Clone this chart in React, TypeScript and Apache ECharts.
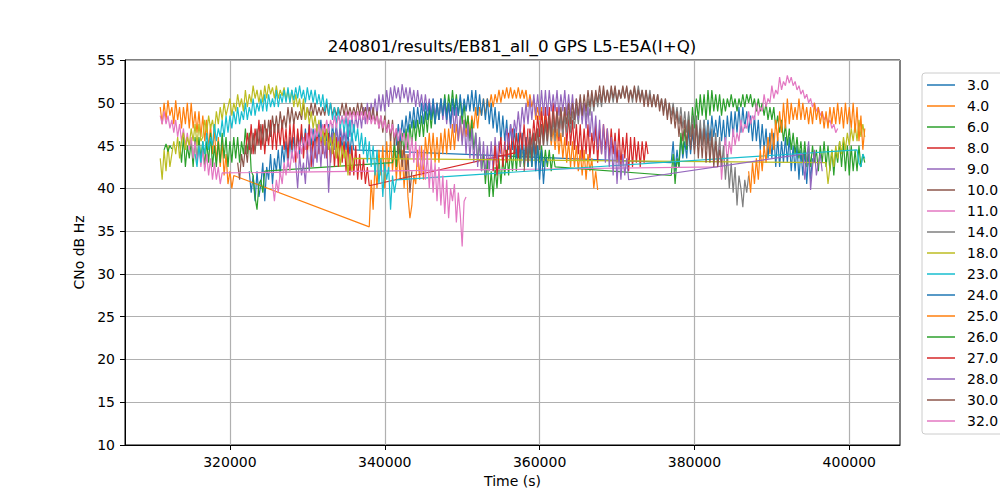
import React, { useEffect, useRef } from 'react';
import * as echarts from 'echarts';

// sample spacing of every pass, seconds
const STEP = 250;

const SAT_NAMES = ['3.0', '4.0', '6.0', '8.0', '9.0', '10.0', '11.0', '14.0', '18.0', '23.0', '24.0', '25.0', '26.0', '27.0', '28.0', '30.0', '32.0'];
const TAB10 = ['#1f77b4', '#ff7f0e', '#2ca02c', '#d62728', '#9467bd', '#8c564b', '#e377c2', '#7f7f7f', '#bcbd22', '#17becf'];
const X_TICKS = [320000, 340000, 360000, 380000, 400000];

// ---- 3.0 ----
const T03_A = 322500;
const CN03_A = [42, 39.5, 41.5, 38.5, 42, 39, 40.5, 43, 38.5, 42.5, 41, 44, 40.5, 43.5, 42, 44.5, 41.5, 45, 43, 45.5, 42.5, 46, 43.5, 46, 44, 46.5, 44, 46.5, 44.5, 47, 44.5, 47.5, 45, 47, 45, 47.5, 45.5, 48, 45, 47.5, 45.5, 47.5, 45, 47.5, 45.5, 47.5, 45, 47, 44.5, 47, 44.5, 46.5, 44, 46.5, 44.5];
const T03_C = 377000;
const CN03_C = [43, 45.5, 42, 44.5, 42.5, 46, 43.5, 45.5, 43.5, 47, 44, 46.5, 44.5, 47.5, 45, 47, 45, 48, 45.5, 48, 45.5, 48.5, 46, 48, 46, 48.5, 45.5, 48, 45, 48.5, 46, 49, 46, 49, 46.5, 49.5, 46.5, 49.5, 47, 49, 46.5, 48.5, 45.5, 48.5, 45.5, 48, 44.5, 47.5, 44.5, 47, 43.5, 46.5, 43.5, 46.5, 42.5, 46, 42.5, 45.5, 43, 46, 43, 46, 42, 45, 42, 45, 41, 44.5, 41.5, 44.5, 40.5, 44, 41, 43.5, 43];
// ---- 4.0 ----
const T04_A = 311000;
const CN04_A = [49.5, 47.5, 50, 48, 50.3, 48.5, 49.5, 47.5, 50.3, 48, 49.5, 47, 49.5, 47.5, 50, 47, 50, 47, 49, 46.5, 49, 46, 48.5, 45.5, 48, 44.5, 47.5, 44, 47, 43, 46, 42.5, 45.5, 41.5, 44, 40.5, 42, 40, 41.5];
const T04_B = 338000;
const CN04_B = [35.5, 41, 37.5, 43, 40, 44.5, 41.5, 45, 40, 45.5, 42, 46, 42, 45, 41, 44.5, 41, 44.5, 40, 44, 39, 36.5, 38, 41.5, 40.5, 44.5, 41, 45, 41, 46, 43.5, 46.5, 43.5, 46.5, 43, 46, 43, 46.5, 44, 47, 44, 47, 44.5, 47.5, 44.5, 47.5, 45.5, 48, 45.5, 48, 46, 48.5, 46, 48.5, 47, 49.5, 47, 49.5, 48.5, 50.5, 48.5, 50.5, 49.5, 51, 49.5, 51, 50, 51.5, 50, 51.5, 50.5, 51.8, 50.5, 51.8, 50.5, 51.5, 50.5, 51.8, 50.5, 51.5, 50.5, 51.5, 49.5, 51, 49.5, 50.5, 48, 49.5, 48, 49.5, 46.5, 48.5, 46.5, 48, 45, 47, 44.5, 47, 44, 46.5, 43.5, 46, 43, 45.5, 42.5, 45.5, 42.5, 45, 42, 44.5, 41.5, 44.5, 41, 44, 42, 43.5, 40, 42, 39.8];
// ---- 6.0 ----
const T06_A = 313500;
const CN06_A = [45.5, 43, 46, 42.5, 45, 43.5, 45.5, 42.5, 46, 43, 46, 43.5, 45.5, 42.5, 45.5, 43, 46.5, 42.5, 45, 42.5, 45.5, 43, 46.5, 43.5, 46, 42.5, 45.5, 43, 46, 43.5, 46, 43, 45.5, 44, 47, 44, 46.5, 42, 41.5, 39, 37.5, 40.5, 41, 39.5, 42];
const T06_B = 341000;
const CN06_B = [43, 45.5, 42.5, 46, 43.5, 46.5, 44, 47, 44.5, 47.5, 45, 48, 45.5, 48, 46, 48.5, 46, 49, 46.5, 49.5, 47, 49.5, 47.5, 50, 48, 50.5, 48.5, 51, 48.5, 51, 49, 51.5, 49, 51, 48.5, 50.5, 47.5, 50, 47, 48.5, 45.5, 48, 44.5, 46.5, 43, 45.5, 42, 44, 40.5, 43.5, 39, 42, 39, 42.5, 40, 43.5, 40.5, 43.5, 41.5, 44.5, 41.5, 44.5, 42, 45, 42, 45, 42.5, 45, 42.5, 45.5, 42.5, 45, 42.5, 45.5, 43, 45, 43, 45, 42.5, 44.5, 42.5, 44.5, 42, 44, 42.5];
const T06_C = 377000;
const CN06_C = [41.5, 44, 40.5, 43.5, 42.5, 46.5, 44, 47, 44.5, 48.5, 46, 49.5, 47, 50.5, 48, 51, 48.5, 51, 48, 51.5, 48.5, 51.5, 49, 51, 49, 51, 48.5, 50.5, 49, 50.5, 49.5, 51, 49.5, 50.5, 49, 50.5, 49.5, 51, 49.5, 51, 50, 51, 49.5, 50.5, 49, 50.5, 49, 50, 48.5, 50, 48, 49.5, 48, 49.5, 47, 48.5, 46.5, 48, 45.5, 47.5, 45, 47, 44.5, 46.5, 44, 46, 43.5, 45.5, 43, 45.5, 42.5, 45, 42.5, 45, 43, 44.5, 42, 45, 43, 45.5, 42.5, 45, 42, 44.5, 41.5, 44.5, 43, 45.5, 42.5, 45.5, 42, 45, 41.5, 45, 42, 44.5, 42, 45, 42.5, 44, 43];
// ---- 8.0 ----
const T08_A = 322000;
const CN08_A = [44, 46.5, 44.5, 47.5, 44, 47, 45, 48, 44.5, 47.5, 44, 47, 45, 48, 44.5, 47.5, 44.5, 47.5, 45, 48, 44.5, 47, 43.5, 47.5, 44.5, 48, 43, 47, 44.5, 47.5, 43.5, 46.5, 44, 47.5, 42.5, 46, 43.5, 47, 44, 46.5, 44, 47.5, 43.5, 46.5, 43, 46.5, 42.5, 46, 42.5, 46, 43, 45.5, 42, 45.5, 41.5, 45, 41.5, 45, 41, 44, 41, 43.5, 40.5, 42.5, 40.3];
const T08_B = 358500;
const CN08_B = [44.5, 47, 45, 48, 45.5, 48.5, 46, 49, 46, 49.5, 46.5, 49.5, 46, 50, 46.5, 49.5, 45.5, 49, 46, 49.5, 45, 48.5, 45, 48, 44.5, 47.5, 44, 47.5, 43.5, 47, 44, 47.5, 43.5, 46.5, 44, 47.5, 43, 47, 44, 47.5, 44.5, 47, 43.5, 47, 44, 46.5, 43, 47, 42.5, 46, 43.5, 46.5, 42, 46, 42.5, 46, 43, 45.5, 42.5, 45.5, 43, 45.5, 44];
// ---- 9.0 ----
const T09 = 328500;
const CN09 = [43, 40, 44, 41.5, 43, 40.5, 44.5, 42, 45, 42.5, 45.5, 43, 46, 42.5, 46, 43.5, 45.5, 39.5, 44, 46.5, 44.5, 47, 45, 47.5, 45.5, 47, 45.5, 48, 46, 48.5, 46.5, 48.5, 47, 49, 47, 49.5, 47.5, 50, 48, 50, 48.5, 50.5, 48.5, 51, 49, 51, 49, 51.5, 49.5, 51.8, 50, 52, 50.5, 51.8, 50, 52.2, 50.5, 51.8, 50, 51.8, 50, 51.5, 49.5, 51.5, 49.5, 51, 49, 51, 49, 50.5, 48.5, 50.5, 48.5, 50, 48, 50.5, 48, 50, 47.5, 50, 47, 49.5, 46.5, 49.5, 45.5, 48.5, 45, 48, 44, 47.5, 43.5, 47, 43, 46.5, 42.5, 46, 42, 45.5, 41.5, 45, 42, 45.5, 42, 46, 43, 45.5, 44];
// ---- 10.0 ----
const T10 = 321000;
const CN10 = [43, 41, 44, 42.5, 45, 43, 46, 44, 46.5, 44, 47, 45, 47.5, 45, 48, 45.5, 48, 46, 48.5, 46.5, 48.5, 46.5, 49, 47, 48.5, 47, 49.5, 47.5, 49.5, 47.5, 49, 48, 49, 48, 50, 48, 49.5, 48.5, 50, 48.5, 50, 48.5, 49.5, 48.5, 49.5, 48.5, 50, 48.5, 50, 48.5, 49.5, 48.5, 49.5, 48.5, 50, 48.5, 50, 48.5, 49.5, 48.5, 49.5, 48.5, 50, 48.5, 50, 48.5, 49.5, 48, 49.5, 48, 49.5, 47.5, 49, 47, 48.5, 46.5, 48.5, 46.5, 48, 45.5, 48, 45, 47, 44, 46.5, 42.5, 45, 41, 44, 39.5, 42];
// ---- 11.0 ----
const T11_A = 311000;
const CN11_A = [48.5, 47.5, 49, 47.5, 48.5, 47, 48, 46.5, 48, 46, 47.5, 45.5, 47, 45, 46.5, 44.5, 46, 43.5, 45.5, 43, 45, 42.5, 44.5, 42, 44, 41.5, 43.5, 41, 43, 41, 42.5, 40.5, 41.8];
const T11_C = 383000;
const CN11_C = [42.5, 45.5, 41, 44, 46, 43, 45.5, 44, 47, 45, 46.5, 45.5, 48, 46.5, 47.5, 47, 49, 47.5, 48.5, 48, 50, 48.5, 49.5, 49, 51, 49.5, 50.5, 50, 52, 50.5, 51.5, 51, 53, 51.5, 52.5, 52, 53.2, 52.3, 53, 52, 52.5, 51.5, 52, 51, 51.5, 50.5, 51, 50, 50.5, 49.5, 50, 49, 49.5, 48.5, 49, 48, 48.5, 47.5, 48, 47, 47.5, 46.5, 47];
// ---- 14.0 ----
const T14 = 357500;
const CN14 = [42.5, 45, 43, 46, 43.5, 46.5, 44, 46.5, 43.5, 47, 44.5, 47.5, 45, 47.5, 45, 48, 45.5, 48, 45.5, 48.5, 46, 48.5, 46, 48.5, 46.5, 49, 46.5, 49, 47, 49.5, 47.5, 50, 48, 50, 48, 50.5, 48.5, 51, 49, 51, 49.5, 51, 49.5, 51.5, 50, 51.5, 50, 51.5, 50, 51.5, 50, 51.5, 50.5, 51.8, 50.5, 51.8, 50.5, 51.5, 50, 51.8, 50.5, 52, 50.5, 51.5, 50, 51.5, 50, 51.5, 49.5, 51, 49.5, 51, 49.5, 50.5, 49, 50.5, 48.5, 50, 48.5, 50, 48, 49.5, 47.5, 49.5, 47, 49, 46.5, 49, 46, 48.5, 45.5, 48.5, 45, 48, 45, 48, 44.5, 47.5, 44, 47, 43.5, 46.5, 43, 46, 42.5, 45, 41, 44, 40, 43, 39.5, 42.5, 38, 41.5, 40, 37.8, 41, 39.5, 41.5];
// ---- 18.0 ----
const T18_A = 311000;
const CN18_A = [43.5, 41, 44.5, 42, 45, 42.5, 44, 45.5, 44, 46, 43.5, 45.5, 46.5, 44.5, 46, 45, 47, 45.5, 47.5, 45, 47.5, 45.5, 46, 48, 46.5, 48.5, 47, 48, 46.5, 49, 47.5, 49.5, 48, 50, 48.5, 49.5, 50.5, 48.5, 50, 49, 51, 49.5, 50.5, 49, 51.5, 49.5, 51, 50, 52, 50.5, 51.5, 50, 51.5, 50, 52, 50.5, 52.2, 51, 51.8, 50.5, 52, 50.5, 51.5, 50.8, 51.8, 50.3, 51.5, 50, 51.5, 49.5, 51, 49.5, 50.5, 48.5, 50.5, 48, 49.5, 47.5, 49, 47, 48.5, 46.5, 48, 45.5, 47, 45, 47, 44.5, 46, 44, 46.5, 43.5, 45.5, 42.5, 45, 43.5, 44.5, 41.5, 44, 42, 43.5];
const T18_B = 397000;
const CN18_B = [43, 40.5, 42.5, 44.5, 42.5, 45, 43.5, 45.5, 44, 46, 44.5, 46.5, 45, 47, 45.5, 47.5, 45.5, 48, 46, 47.5, 46];
// ---- 23.0 ----
const T23_A = 315500;
const CN23_A = [44, 42.5, 45, 43, 45.5, 44, 46.5, 44.5, 46, 45, 47.5, 45.5, 47, 46, 48, 46, 48.5, 46.5, 48.5, 47, 49, 47.5, 49.5, 47.5, 49, 48, 50, 48, 49.5, 48.5, 50.5, 48.5, 50, 49, 50.5, 49, 51, 49, 51, 49.5, 50.5, 49.5, 51.5, 49.5, 51, 50, 51.5, 50, 51.8, 50, 51.5, 50.3, 51.8, 50.5, 52, 50.5, 51.5, 50, 51.8, 50.3, 51.5, 50, 51.5, 49.8, 51, 49.5, 51, 49, 50.5, 48.5, 50, 48, 49.5, 47.5, 49.5, 47, 48.5, 46.5, 48.5, 46, 48, 45.5, 47.5, 45.5, 47, 44.5, 46.5, 44, 46, 43, 45.5, 42.5, 45, 41.5, 44.5, 40.5, 43.5, 39, 43, 41, 42.5, 37.5, 41.5, 39.5, 41];
const T23_B = 401000;
const CN23_B = [44.5, 43, 42.5, 44, 43.5];
// ---- 24.0 ----
const T24 = 341500;
const CN24 = [45, 47.5, 45.5, 48, 46, 48.5, 46.5, 49, 47, 49.5, 47, 49.5, 47.5, 50, 47.5, 50, 48, 50, 48, 50.5, 47.5, 50, 48, 50.5, 48.5, 50.5, 48, 50, 47.5, 50.5, 48.5, 50.5, 48.5, 51, 48.5, 50.5, 49, 51, 49, 51.5, 49, 51.5, 48.5, 51, 48.5, 50.5, 48, 50.5, 47.5, 50, 47, 49.5, 46.5, 49, 45.5, 48.5, 45.5, 48, 44.5, 47.5, 44.5, 47, 43.5, 46.5, 43.5, 46.5, 43, 46, 42.5, 46, 42.5, 45.5, 42, 45, 41, 44.5, 40.5, 43.5, 43];
// ---- 25.0 ----
const T25 = 387000;
const CN25 = [42, 39.5, 43, 40.5, 43.5, 41, 44.5, 42, 45, 43, 46, 44, 47, 44.5, 48, 45.5, 49, 46.5, 50, 47, 50.5, 47.5, 50, 48, 49.5, 48, 50.5, 48, 50, 48, 49.5, 47.5, 49.5, 47.5, 50, 48, 49.5, 47.5, 49, 47, 49, 47, 49.5, 47.5, 49.5, 47.5, 50, 47.5, 49.5, 47, 50, 47.5, 49.5, 47, 50, 46.5, 49.5, 45.5, 48.5, 44.5, 47];
// ---- 26.0 ----
const T26 = 311500;
const CN26 = [44.5, 45.2, 44.3, 45, 44.6];
// ---- 27.0 ----
const T27 = 354000;
const CN27 = [42, 45, 41.5, 44, 46, 42.5, 45.5, 43, 46.5, 43.5, 47, 44, 46.5, 43.5, 47, 44.5, 47.5, 44, 47];
// ---- 28.0 ----
const T28_B = 355500;
const CN28_B = [44.5, 47, 45, 47.5, 45.5, 48, 46.5, 49, 46.5, 49.5, 47.5, 50, 47.5, 50.5, 48, 51, 48.5, 51, 48.5, 51.5, 48.5, 51.5, 48.5, 51.5, 49, 51, 49, 51.5, 48.5, 51, 49, 51.5, 48.5, 51, 48.5, 51, 48, 50.5, 48, 50.5, 47.5, 50, 47, 49.5, 46, 49, 45.5, 48.5, 44.5, 48, 44, 47.5, 43, 47, 42.5, 46, 41.5, 45.5, 40.5, 44.5, 41, 44, 41.5, 43.5, 41];
const T28_C = 394000;
const CN28_C = [44, 41, 43.5, 45.5, 39.8, 42.5, 44.5, 41.5, 43, 44, 42];
// ---- 30.0 ----
const T30 = 358000;
const CN30 = [42, 45, 43, 46, 43.5, 46.5, 44, 47, 44.5, 47.5, 45, 48, 45.5, 48.5, 46, 49, 46.5, 49, 47, 49.5, 47, 49.5, 47.5, 50, 47.5, 50, 48, 50.5, 48.5, 51, 48.5, 51, 49, 51.5, 49.5, 51.5, 49.5, 51.5, 50, 52, 50, 52, 50, 51.5, 50, 52, 50.5, 52, 50, 51.5, 50.5, 52, 50.5, 52, 50, 51.5, 50.5, 52, 50, 51.5, 50, 51.5, 49.5, 51.5, 49.5, 51, 49.5, 51, 49.5, 51, 49, 50.5, 48.5, 50.5, 48, 50, 47.5, 49.5, 47, 49, 46, 48.5, 45.5, 48, 45, 48, 44.5, 47.5, 44, 47.5, 43.5, 47, 43.5, 47, 43, 46.5, 43, 46, 42.5, 45.5, 42.5, 44.5, 43];
// ---- 32.0 ----
const T32 = 325500;
const CN32 = [40.5, 38.5, 41, 39.5, 42, 40.5, 43, 41.5, 43.5, 42, 44.5, 43, 45, 43.5, 45.5, 44, 46, 44.5, 46.5, 45, 47, 45.5, 47, 46, 47.5, 46, 47.5, 46.5, 48, 46.5, 48, 47, 48.5, 47, 48.5, 47.5, 48.5, 47.5, 49, 47.5, 49, 48, 49, 48, 49, 48, 49, 48, 49, 47.5, 49, 47.5, 48.5, 47.5, 48.5, 47, 48.5, 47, 48, 46.5, 47.5, 46.5, 47.5, 46, 47, 45.5, 47, 45.5, 46.5, 44.5, 46.5, 43.5, 46, 43, 45.5, 42.5, 45, 41.5, 44.5, 41, 44, 40, 43.5, 39.5, 43, 38.5, 42.5, 38, 41.5, 37, 41, 36.5, 40, 38.5, 40.5, 36, 39.5, 37, 33.2, 38.5, 39];

type Pass = [number, number[]];
const SAT_PASSES: Pass[][] = [
  [[T03_A, CN03_A], [T03_C, CN03_C]],
  [[T04_A, CN04_A], [T04_B, CN04_B]],
  [[T06_A, CN06_A], [T06_B, CN06_B], [T06_C, CN06_C]],
  [[T08_A, CN08_A], [T08_B, CN08_B]],
  [[T09, CN09]],
  [[T10, CN10]],
  [[T11_A, CN11_A], [T11_C, CN11_C]],
  [[T14, CN14]],
  [[T18_A, CN18_A], [T18_B, CN18_B]],
  [[T23_A, CN23_A], [T23_B, CN23_B]],
  [[T24, CN24]],
  [[T25, CN25]],
  [[T26, CN26]],
  [[T27, CN27]],
  [[T28_B, CN28_B], [T28_C, CN28_C]],
  [[T30, CN30]],
  [[T32, CN32]],
];

function buildData(passes: Pass[]): number[][] {
  const out: number[][] = [];
  passes.forEach(([t0, vals]) => {
    vals.forEach((v, i) => out.push([t0 + i * STEP, v]));
  });
  return out;
}

const FONT = 'DejaVu Sans';

export default function App() {
  const ref = useRef<HTMLDivElement>(null);
  useEffect(() => {
    if (!ref.current) return;
    const chart = echarts.init(ref.current, undefined, { renderer: 'svg' });
    const series = SAT_NAMES.map((name, i) => ({
      name,
      type: 'line',
      data: buildData(SAT_PASSES[i]),
      showSymbol: false,
      symbol: 'none',
      silent: true,
      lineStyle: { width: 1.2, color: TAB10[i % 10] },
      itemStyle: { color: TAB10[i % 10] },
      emphasis: { disabled: true },
    }));
    chart.setOption({
      animation: false,
      backgroundColor: '#fff',
      textStyle: { fontFamily: FONT },
      graphic: [
        {
          type: 'text',
          x: 512,
          y: 46,
          style: {
            text: '240801/results/EB81_all_0 GPS L5-E5A(I+Q)',
            fontSize: 16.7,
            fontFamily: FONT,
            fill: '#000',
            align: 'center',
            verticalAlign: 'middle',
          },
        },
      ],
      grid: { left: 125, right: 100, top: 60, bottom: 55, show: true, borderColor: '#000', borderWidth: 1, backgroundColor: 'transparent' },
      legend: {
        data: SAT_NAMES,
        orient: 'vertical',
        left: 922,
        top: 73,
        icon: 'rect',
        itemWidth: 28,
        itemHeight: 1.5,
        itemGap: 5,
        padding: [4, 34, 5, 5],
        borderColor: '#cccccc',
        borderWidth: 1,
        borderRadius: 3,
        backgroundColor: '#fff',
        selectedMode: false,
        textStyle: { fontSize: 14, color: '#000', fontFamily: FONT, lineHeight: 16, padding: [0, 0, 0, 7] },
      },
      xAxis: {
        type: 'value',
        min: 306450,
        max: 406550,
        splitNumber: 5,
        name: 'Time (s)',
        nameLocation: 'middle',
        nameGap: 29,
        nameTextStyle: { fontSize: 14, color: '#000', fontFamily: FONT },
        axisLine: { show: true, lineStyle: { color: '#000', width: 1 } },
        axisTick: { show: true, length: 5, lineStyle: { color: '#000' }, customValues: X_TICKS },
        axisLabel: { fontSize: 14, color: '#000', margin: 10, fontFamily: FONT, customValues: X_TICKS, formatter: (v: number) => String(v) },
        splitLine: { show: true, lineStyle: { color: '#b0b0b0', width: 1.2 } },
      },
      yAxis: {
        type: 'value',
        min: 10,
        max: 55,
        interval: 5,
        name: 'CNo dB Hz',
        nameLocation: 'middle',
        nameGap: 34,
        nameTextStyle: { fontSize: 14, color: '#000', fontFamily: FONT },
        axisLine: { show: true, lineStyle: { color: '#000', width: 1 } },
        axisTick: { show: true, length: 5, lineStyle: { color: '#000' } },
        axisLabel: { fontSize: 14, color: '#000', margin: 10, fontFamily: FONT },
        splitLine: { show: true, lineStyle: { color: '#b0b0b0', width: 1.2 } },
      },
      series,
    });
    return () => chart.dispose();
  }, []);
  return <div ref={ref} style={{ position: 'absolute', left: 0, top: 0, width: 1000, height: 500 }} />;
}
